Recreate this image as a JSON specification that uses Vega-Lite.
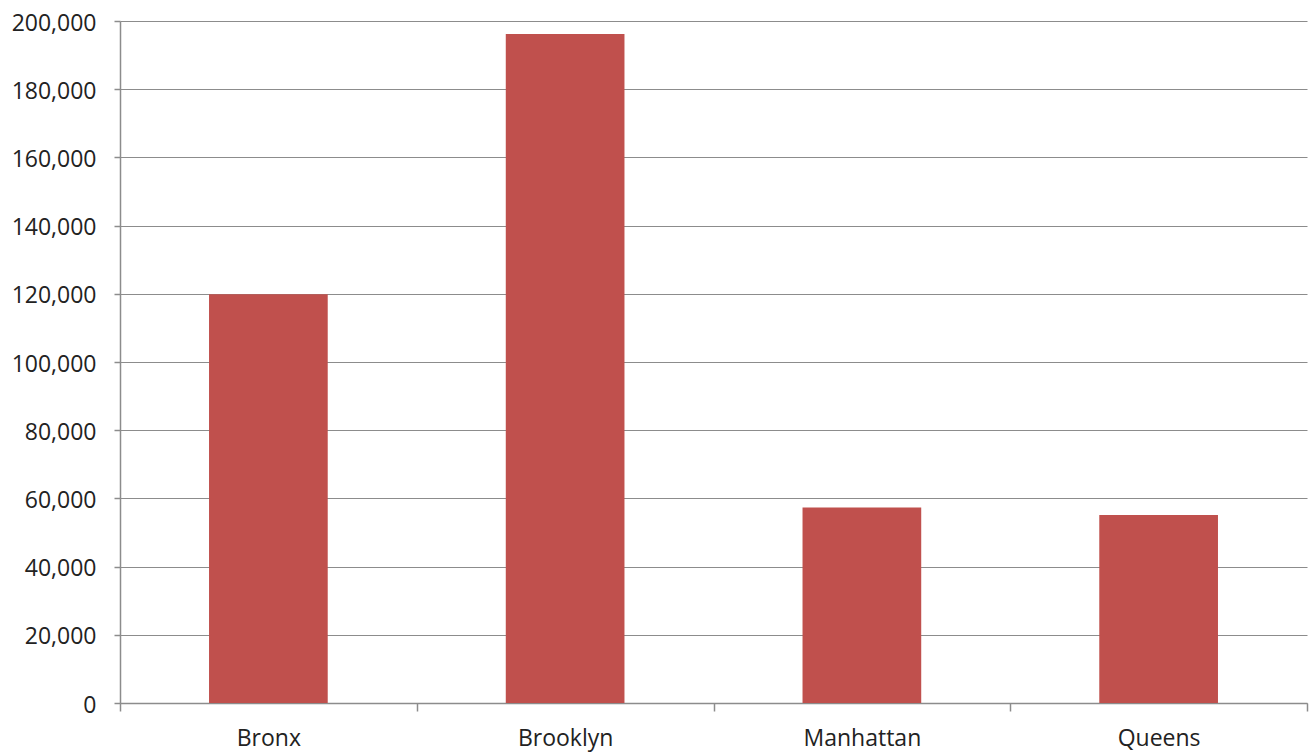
{
  "$schema": "https://vega.github.io/schema/vega-lite/v6.json",
  "width": 1187,
  "height": 682,
  "autosize": {"type": "none"},
  "padding": {"left": 120, "top": 21, "right": 3, "bottom": 49},
  "background": "#ffffff",
  "config": {
    "view": {"stroke": null},
    "axis": {
      "labelFont": "Open Sans",
      "labelFontSize": 23,
      "labelColor": "#222222",
      "domainColor": "#8c8c8c",
      "tickColor": "#8c8c8c",
      "gridColor": "#8c8c8c",
      "gridOpacity": 1,
      "domainWidth": 1.5,
      "tickWidth": 1.5,
      "gridWidth": 1.2
    }
  },
  "data": {
    "values": [
      {"borough": "Bronx", "value": 119900},
      {"borough": "Brooklyn", "value": 196200},
      {"borough": "Manhattan", "value": 57300},
      {"borough": "Queens", "value": 55100}
    ]
  },
  "mark": {"type": "bar", "color": "#C0504D", "width": {"band": 0.4}},
  "encoding": {
    "x": {
      "field": "borough",
      "type": "nominal",
      "sort": null,
      "scale": {"paddingInner": 0, "paddingOuter": 0},
      "axis": {
        "title": null,
        "labelAngle": 0,
        "tickBand": "extent",
        "tickSize": 8,
        "labelPadding": 16,
        "grid": false
      }
    },
    "y": {
      "field": "value",
      "type": "quantitative",
      "scale": {"domain": [0, 200000], "nice": false},
      "axis": {
        "title": null,
        "values": [0, 20000, 40000, 60000, 80000, 100000, 120000, 140000, 160000, 180000, 200000],
        "format": ",d",
        "tickSize": 6,
        "labelPadding": 18,
        "labelOffset": 2,
        "grid": true
      }
    }
  }
}
